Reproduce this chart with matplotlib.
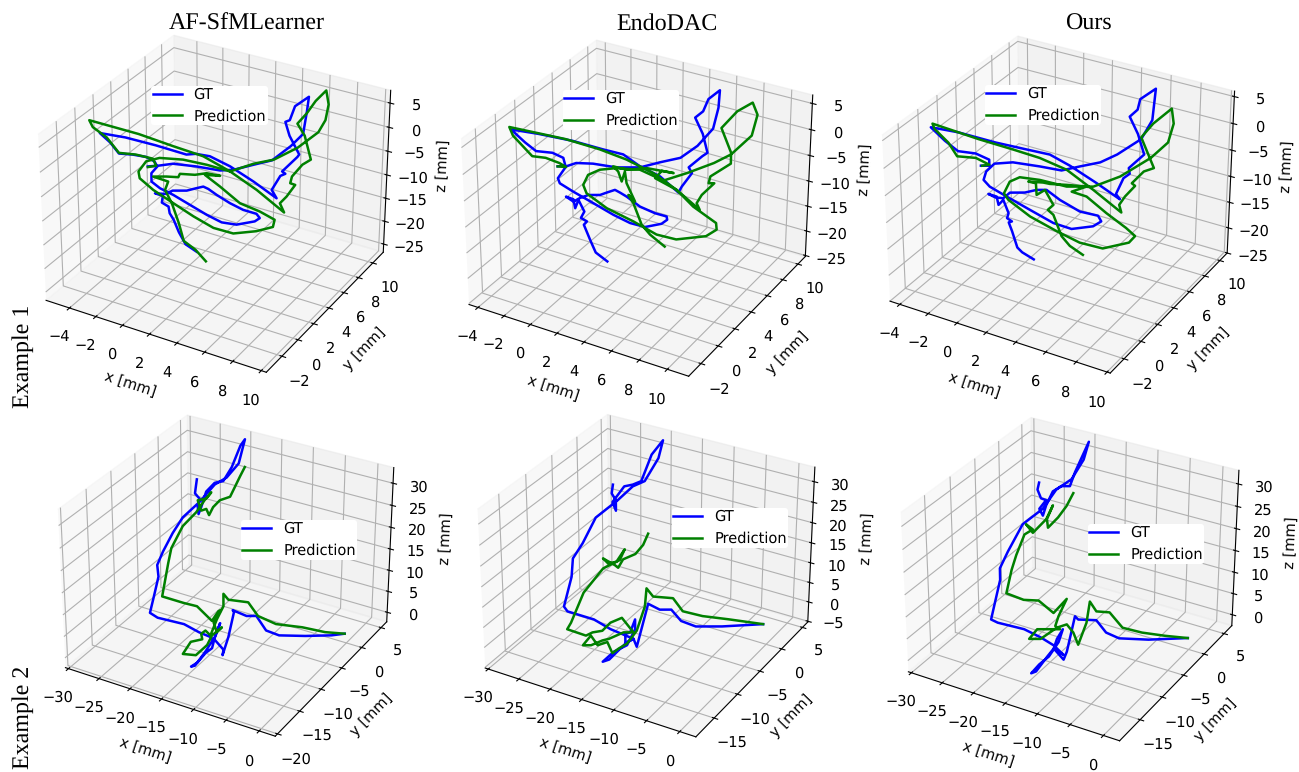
import matplotlib
matplotlib.use('Agg')
import matplotlib.pyplot as plt

W, H = 1299, 772

# Example 1, AF-SfMLearner
a1_gt_x = [0.98, 0.37, 0, -0.28, -0.5, -0.56, -0.93, -0.87, -1.3, -0.74, -0.32, 0.46, 0.98, 1.38, 1.66, 2.12, 2.86, 3.6, 4.34, 4.53, 4.25, 3.23, 2.4, 1.57, 0.64, -0.28, -1.02, -1.48, -1.48, -1.11, -0.28, 0.98, 2.31, 3.05, 4.16, 5.17, 6.19, 6.84, 7.02, 7.11, 6.37, 6.1, 5.86, 6.1, 6.65, 6.56, 5.73, 5.91, 5.64, 5.17, 5.45, 4.16, 2.86, 1.75, 0.98, 0.46, -1.21, -2.87, -4.26, -3.7, -3.24, -2.5, -1.76, -1.3, -1.17, -1.67]
a1_gt_y = [3.29, 2.95, 2.75, 2.59, 2.47, 2.44, 2.24, 2.27, 2.03, 2.34, 2.57, 3, 3.29, 3.51, 3.66, 3.92, 4.33, 4.73, 5.14, 5.24, 5.09, 4.53, 4.07, 3.61, 3.1, 2.59, 2.19, 1.93, 1.93, 2.14, 2.59, 3.29, 4.02, 4.43, 5.04, 5.6, 6.16, 6.52, 6.62, 6.67, 6.26, 6.11, 5.98, 6.11, 6.42, 6.36, 5.91, 6.01, 5.85, 5.6, 5.75, 5.04, 4.33, 3.71, 3.29, 3, 2.08, 1.17, 0.4, 0.71, 0.96, 1.37, 1.78, 2.03, 2.1, 1.83]
a1_gt_z = [-21.85, -20.24, -17.65, -14.99, -13.59, -12.19, -11.35, -9.95, -9.39, -9.53, -8.83, -8.83, -8.34, -7.99, -8.48, -9.74, -11.49, -12.89, -13.73, -14.64, -15.34, -16.04, -15.55, -13.94, -11.84, -9.74, -8.34, -6.94, -5.19, -3.65, -3.23, -3.79, -4.63, -4.49, -3.44, -2.53, 0.41, 2.86, 7.41, 10.35, 8.46, 5.66, 5.31, 2.51, -1.34, -1.83, -4.84, -5.33, -5.75, -8.69, -10.44, -6.94, -3.79, -1.69, -1.2, -1.34, 0.55, 2.16, 3.07, 1.11, -1.13, -1.34, -1.83, -2.74, -3.65, -3.79]
a1_pr_x = [1.51, 0.92, 0.27, 0, -0.37, -0.74, -0.56, -0.84, -1.39, -0.65, 0, 0.09, 0.92, 1.57, 2.31, 1.47, 2.31, 3.42, 4.53, 5.36, 5.27, 4.34, 3.05, 1.94, 0.83, -0.28, -1.39, -2.13, -2.19, -1.76, -1.02, 0.27, 1.57, 2.86, 4.16, 5.27, 6.56, 7.67, 8.04, 8.19, 8.04, 7.48, 7.02, 6.52, 6.93, 7.3, 6.84, 6.28, 6.19, 6.47, 6.0, 5.64, 5.88, 4.34, 2.86, 1.38, -0.28, -2.13, -4.81, -4.63, -3.89, -3.24, -2.32, -1.39, -1.21, -1.67]
a1_pr_y = [3.58, 3.26, 2.9, 2.75, 2.54, 2.34, 2.44, 2.29, 1.98, 2.39, 2.75, 2.8, 3.26, 3.61, 4.02, 3.56, 4.02, 4.63, 5.24, 5.7, 5.65, 5.14, 4.43, 3.82, 3.21, 2.59, 1.98, 1.57, 1.54, 1.78, 2.19, 2.9, 3.61, 4.33, 5.04, 5.65, 6.36, 6.98, 7.18, 7.26, 7.18, 6.87, 6.62, 6.34, 6.57, 6.77, 6.52, 6.21, 6.16, 6.31, 6.06, 5.85, 5.99, 5.14, 4.33, 3.51, 2.59, 1.57, 0.1, 0.2, 0.61, 0.96, 1.47, 1.98, 2.08, 1.83]
a1_pr_z = [-23.95, -21.43, -19.54, -15.69, -11.49, -8.69, -6.94, -6.59, -5.89, -5.89, -6.03, -5.33, -5.54, -5.19, -5.75, -5.54, -7.99, -11.49, -13.24, -14.99, -16.53, -17.44, -17.93, -16.74, -14.29, -11.49, -8.69, -6.24, -4.84, -2.74, -2.04, -2.39, -3.44, -4.84, -3.23, -2.39, 0.06, 3.21, 5.66, 8.81, 11.61, 9.51, 7.06, 4.96, 2.51, -2.39, -3.44, -5.89, -7.29, -7.64, -10.09, -11.49, -13.45, -8.69, -4.84, -1.69, 0.41, 2.86, 5.66, 4.26, 2.16, -0.99, -1.34, -2.18, -3.65, -3.93]

# Example 1, EndoDAC
e1_gt_x = [1.43, 0.78, 0.5, 0.13, 0.31, -0.05, 0.17, -0.15, -0.34, -0.43, -0.84, -0.43, -0.06, 0.41, 1.06, 1.43, 1.89, 2.17, 2.54, 3.29, 4.13, 4.78, 4.81, 4.5, 3.57, 2.73, 1.8, 0.69, -0.43, -1.17, -1.27, -0.8, -0.24, 0.69, 1.99, 3.29, 4.4, 5.52, 6.45, 7.29, 7.56, 7.62, 7.01, 6.73, 6.3, 6.73, 7.01, 6.73, 5.98, 6.17, 5.61, 5.43, 4.4, 3.29, 2.36, 1.24, -0.43, -2.29, -3.78, -3.03, -2.44, -1.54, -0.95, -0.84, -1.27]
e1_gt_y = [2.99, 2.65, 2.51, 2.32, 2.41, 2.27, 2.34, 2.18, 2.08, 2.03, 1.82, 2.03, 2.22, 2.46, 2.8, 2.99, 3.23, 3.37, 3.56, 3.94, 4.37, 4.71, 4.73, 4.56, 4.09, 3.66, 3.18, 2.61, 2.03, 1.65, 1.6, 1.84, 2.13, 2.61, 3.27, 3.94, 4.52, 5.09, 5.57, 6, 6.14, 6.17, 5.85, 5.71, 5.49, 5.71, 5.85, 5.71, 5.33, 5.42, 5.14, 5.04, 4.52, 3.94, 3.47, 2.89, 2.03, 1.08, 0.31, 0.7, 1, 1.46, 1.77, 1.82, 1.6]
e1_gt_z = [-21.75, -19.94, -17.67, -14.42, -13.77, -13.13, -11.83, -9.56, -11.18, -9.43, -8.91, -9.88, -9.17, -8.59, -8.59, -8.13, -7.61, -8.13, -8.91, -10.86, -12.15, -12.8, -13.45, -14.23, -14.88, -14.1, -12.48, -10.21, -7.94, -6.32, -5.34, -3.07, -2.43, -2.56, -3.27, -3.27, -2.3, -1.45, 0.82, 4.06, 7.95, 11.19, 9.57, 7.3, 6.13, 3.09, -0.48, -1.13, -3.27, -4.37, -6.97, -8.13, -5.02, -3.07, -0.8, 0.17, 1.79, 3.09, 3.93, 1.47, -0.16, -0.48, -1.45, -2.94, -3.07]
e1_pr_x = [4.68, 3.85, 3.38, 2.92, 2.64, 3.01, 2.54, 2.45, 2.27, 2.08, 1.8, 2.54, 3.66, 5.15, 4.5, 4.13, 5.33, 6.26, 7.56, 7.6, 7.01, 5.33, 4.22, 2.92, 1.43, 0.31, 0.13, 0.41, 1.06, 1.99, 3.29, 4.59, 5.89, 7.38, 8.31, 9.42, 9.7, 9.42, 8.59, 7.75, 8.31, 8.31, 7.19, 7.1, 7.42, 6.73, 6.45, 6.63, 5.33, 4.03, 2.54, 1.06, -0.8, -3.87, -3.68, -2.66, -1.92, -1.17, -0.8, -1.27]
e1_pr_y = [4.66, 4.23, 3.99, 3.75, 3.61, 3.8, 3.56, 3.51, 3.42, 3.32, 3.18, 3.56, 4.13, 4.9, 4.56, 4.37, 4.99, 5.47, 6.14, 6.16, 5.85, 4.99, 4.42, 3.75, 2.99, 2.41, 2.32, 2.46, 2.8, 3.27, 3.94, 4.61, 5.28, 6.04, 6.52, 7.09, 7.24, 7.09, 6.66, 6.23, 6.52, 6.52, 5.95, 5.9, 6.06, 5.71, 5.57, 5.66, 4.99, 4.32, 3.56, 2.8, 1.84, 0.27, 0.36, 0.89, 1.27, 1.65, 1.84, 1.6]
e1_pr_z = [-18.77, -16.37, -14.42, -10.21, -8.59, -9.88, -6.32, -4.05, -5.99, -4.05, -3.07, -3.72, -3.4, -4.37, -3.92, -5.34, -7.61, -10.86, -14.1, -15.4, -16.69, -17.34, -16.37, -13.77, -11.18, -8.26, -6.64, -4.7, -3.72, -3.4, -3.72, -5.8, -4.37, -2.43, -0.8, 2.76, 6.65, 8.92, 7.3, 4.19, -0.48, -2.56, -5.02, -6.32, -6.32, -8.59, -10.21, -11.5, -7.61, -4.37, -1.78, 0.17, 2.11, 4.38, 2.76, -1.13, -1.45, -2.43, -3.2, -3.07]

# Example 1, Ours
o1_gt_x = [1.16, 0.56, 0.31, 0.05, -0.12, 0.05, -0.2, -0.12, -0.38, -0.63, -0.72, -1.14, -0.8, -0.38, -0.03, 0.73, 1.33, 1.84, 2.53, 3.55, 4.49, 4.66, 4.24, 3.13, 2.19, 0.99, -0.2, -1.06, -1.37, -1.23, -0.8, 0.14, 1.5, 2.61, 3.55, 4.58, 5.43, 6.63, 7.17, 7.31, 6.54, 6.42, 6.03, 6.46, 6.8, 6.03, 6.08, 5.77, 5.4, 5.6, 4.41, 3.04, 2.02, 0.82, -0.72, -2.6, -3.96, -3.28, -2.63, -1.74, -1.06, -1.06, -1.49]
o1_gt_y = [3.1, 2.76, 2.62, 2.47, 2.38, 2.47, 2.33, 2.38, 2.23, 2.09, 2.04, 1.8, 1.99, 2.23, 2.42, 2.86, 3.2, 3.49, 3.87, 4.45, 4.99, 5.08, 4.84, 4.21, 3.68, 3, 2.33, 1.84, 1.67, 1.75, 1.99, 2.52, 3.29, 3.92, 4.45, 5.03, 5.52, 6.2, 6.5, 6.58, 6.15, 6.08, 5.86, 6.1, 6.29, 5.86, 5.89, 5.71, 5.5, 5.61, 4.94, 4.16, 3.58, 2.91, 2.04, 0.97, 0.18, 0.59, 0.95, 1.46, 1.84, 1.84, 1.6]
o1_gt_z = [-22.06, -20.67, -19.73, -16.57, -14.87, -14.68, -14.05, -13.1, -10.57, -11.52, -9.94, -9.44, -10.07, -10.26, -9.18, -9.18, -8.68, -8.68, -10.57, -12.78, -13.6, -14.68, -15.62, -16.13, -14.99, -12.47, -9.94, -8.05, -6.79, -5.21, -3.75, -3.5, -4.26, -5.02, -4.26, -3.5, -2.05, 0.79, 4.26, 9.94, 8.05, 6.16, 4.89, 1.74, -2.05, -4.58, -5.65, -6.47, -9.44, -10.45, -7.42, -4.13, -2.05, -1.1, 0.16, 2.05, 3, 0.47, -1.42, -1.86, -3, -4.13, -4.13]
o1_pr_x = [3.72, 3.04, 2.61, 2.19, 1.9, 2.19, 1.76, 1.33, 1.3, 0.91, 1.67, 2.02, 2.87, 3.89, 3.13, 3.89, 4.92, 5.94, 6.42, 6.11, 4.75, 3.55, 2.36, 0.99, -0.12, -0.34, -0.03, 0.48, 1.5, 2.87, 4.24, 5.6, 7.14, 7.99, 8.25, 8.13, 7.22, 6.63, 6.97, 7.31, 6.8, 6.2, 6.37, 5.86, 5.57, 5.69, 4.24, 2.87, 1.5, 0.14, -1.57, -3.88, -3.79, -3.11, -2.68, -1.74, -1.06, -1.43]
o1_pr_y = [4.55, 4.16, 3.92, 3.68, 3.52, 3.68, 3.44, 3.2, 3.18, 2.96, 3.39, 3.58, 4.07, 4.65, 4.21, 4.65, 5.23, 5.81, 6.08, 5.9, 5.13, 4.45, 3.78, 3, 2.38, 2.25, 2.42, 2.71, 3.29, 4.07, 4.84, 5.61, 6.49, 6.97, 7.11, 7.05, 6.53, 6.2, 6.39, 6.58, 6.29, 5.95, 6.05, 5.76, 5.6, 5.66, 4.84, 4.07, 3.29, 2.52, 1.55, 0.25, 0.3, 0.68, 0.92, 1.46, 1.84, 1.63]
o1_pr_z = [-21.18, -19.41, -17.52, -13.41, -12.47, -11.52, -8.68, -9.63, -7.42, -7.1, -7.29, -7.54, -7.73, -8.05, -9, -9.94, -13.1, -15.94, -17.52, -18.78, -19.92, -18.78, -16.57, -13.73, -10.57, -9.31, -7.1, -6.28, -6.79, -8.05, -8.05, -6.15, -2.68, 0.16, 3.63, 6.35, 3.63, 1.11, -1.74, -4.58, -5.21, -7.42, -7.92, -9.94, -11.52, -12.97, -8.68, -4.89, -2.68, -1.1, 0.79, 3.63, 2.68, 0.16, -2.37, -2.68, -3.94, -4.13]

# Example 2, AF-SfMLearner
a2_gt_x = [-17.77, -17.89, -18, -17.49, -17.69, -17.61, -17.29, -16.7, -15.71, -14.72, -13.73, -12.75, -12.23, -12.94, -14.33, -15.71, -17.49, -19.47, -20.65, -21.84, -22.55, -22.43, -23.03, -23.54, -22.63, -19.47, -17.69, -16.3, -15.91, -15.51, -15.12, -15.71, -16.11, -16.9, -17.89, -18.68, -18.2, -16.9, -15.91, -14.72, -14.84, -14.13, -13.46, -13.62, -11.95, -10.77, -9.58, -8, -4.84, -1.67, -0.09]
a2_gt_y = [-8.77, -8.82, -8.88, -8.63, -8.73, -8.69, -8.54, -8.26, -7.79, -7.32, -6.85, -6.38, -6.14, -6.47, -7.13, -7.79, -8.63, -9.57, -10.14, -10.7, -11.04, -10.98, -11.26, -11.51, -11.08, -9.57, -8.73, -8.07, -7.88, -7.69, -7.51, -7.79, -7.98, -8.35, -8.82, -9.2, -8.97, -8.35, -7.88, -7.32, -7.38, -7.04, -6.72, -6.79, -6, -5.44, -4.88, -4.13, -2.62, -1.12, -0.37]
a2_gt_z = [35.42, 33.89, 32.36, 31.21, 29.3, 27.77, 29.3, 32.74, 34.66, 35.04, 38.1, 42.7, 44.07, 38.87, 35.81, 34.28, 30.45, 27, 23.56, 19.35, 16.29, 13.61, 9.02, 5.19, 4.04, 2.51, 0.6, -0.55, -1.32, 0.6, 2.74, -0.17, -3.23, -4.38, -6.67, -7.67, -7.44, -3.99, -0.93, -3.61, -4.91, -0.55, 5.34, 5.8, 4.43, 4.43, 1, -0.17, -0.32, -0.17, 0.22]
a2_pr_x = [-12.23, -12.75, -13.93, -15.12, -15.91, -16.38, -16.7, -17.29, -17.69, -16.7, -16.11, -16.9, -17.89, -19.47, -20.85, -21.25, -22.04, -19.47, -17.89, -16.11, -15.32, -15.04, -15.91, -15.51, -14.92, -16.11, -16.7, -18.08, -18.87, -19.66, -18.68, -17.29, -17.41, -16.9, -16.3, -15.51, -14.72, -14.72, -14.13, -11.76, -10.57, -8.4, -5.23, -2.46, -0.09]
a2_pr_y = [-6.14, -6.38, -6.94, -7.51, -7.88, -8.11, -8.26, -8.54, -8.73, -8.26, -7.98, -8.35, -8.82, -9.57, -10.23, -10.42, -10.79, -9.57, -8.82, -7.98, -7.6, -7.47, -7.88, -7.69, -7.41, -7.98, -8.26, -8.92, -9.29, -9.67, -9.2, -8.54, -8.6, -8.35, -8.07, -7.69, -7.32, -7.32, -7.04, -5.91, -5.35, -4.31, -2.81, -1.5, -0.37]
a2_pr_z = [38.1, 36.19, 31.6, 30.83, 29.3, 27.54, 28.92, 28.54, 30.83, 31.21, 32.59, 30.83, 28.15, 25.09, 20.12, 16.67, 9.02, 7.49, 6.72, 3.28, 5.57, 5.8, 2.89, 0.6, 1.75, -0.17, -2.46, -4.91, -4.76, -4.61, -1.7, -1.09, 0.22, 0.98, -0.17, 3.66, 6.72, 9.63, 8.25, 7.64, 4.43, 2.51, 1.75, 0.6, 0.22]

# Example 2, EndoDAC
e2_gt_x = [-17.82, -17.97, -17.5, -17.5, -17.89, -16.52, -15.54, -14.56, -13.38, -12.09, -12.6, -14.17, -15.54, -17.3, -19.85, -21.42, -22.6, -22.8, -23.78, -23.38, -20.25, -18.29, -15.54, -16.52, -16.52, -15.93, -15.34, -15.34, -16.32, -17.89, -19.27, -18.48, -16.32, -15.54, -15.15, -13.78, -12.4, -11.03, -9.85, -8.09, -4.95, -0.05]
e2_gt_y = [-8.67, -8.74, -8.53, -8.53, -8.7, -8.09, -7.66, -7.23, -6.7, -6.13, -6.36, -7.05, -7.66, -8.44, -9.57, -10.26, -10.78, -10.87, -11.31, -11.13, -9.74, -8.87, -7.66, -8.09, -8.09, -7.83, -7.57, -7.57, -8.01, -8.7, -9.31, -8.96, -8.01, -7.66, -7.49, -6.88, -6.27, -5.66, -5.14, -4.36, -2.97, -0.8]
e2_gt_z = [34.95, 32.89, 31.25, 28.78, 30.84, 34.54, 34.95, 35.77, 41.93, 45.22, 41.11, 35.77, 34.54, 31.25, 27.14, 20.97, 17.27, 12.75, 5.35, 4.12, 2.07, -0.4, -2.87, -4.1, -1.63, -1.22, 2.07, -0.4, -4.51, -6.15, -8.78, -8.21, -3.69, -2.87, -4.92, 6.01, 4.53, 4.53, 1.66, 0.26, 0.26, 0.83]
e2_pr_x = [-13.78, -14.36, -15.27, -16.72, -17.3, -17.7, -19.07, -18.48, -17.5, -16.52, -17.11, -19.07, -21.42, -22.99, -23.46, -21.23, -20.44, -19.27, -18.29, -16.91, -15.54, -16.72, -18.48, -19.27, -20.64, -21.62, -20.64, -19.85, -18.68, -18.09, -17.3, -16.32, -15.15, -14.17, -13.97, -13.19, -10.83, -9.66, -7.3, -4.17, -0.05]
e2_pr_y = [-6.88, -7.14, -7.54, -8.18, -8.44, -8.61, -9.22, -8.96, -8.53, -8.09, -8.35, -9.22, -10.26, -10.96, -11.17, -10.18, -9.83, -9.31, -8.87, -8.27, -7.66, -8.18, -8.96, -9.31, -9.92, -10.35, -9.92, -9.57, -9.05, -8.79, -8.44, -8.01, -7.49, -7.05, -6.97, -6.62, -5.58, -5.06, -4.01, -2.63, -0.8]
e2_pr_z = [23.27, 20.56, 18.34, 17.03, 14.97, 15.63, 17.27, 16.04, 16.45, 19.49, 16.86, 14.81, 8.81, 1.24, -0.4, -2.04, -1.22, -0.81, 1.24, 2.48, -1.22, -1.22, -2.87, -3.28, -4.51, -4.51, -2.04, -4.51, -3.69, -6.56, -5.33, -4.1, -0.81, 5.35, 9.88, 7.82, 7.41, 4.12, 2.89, 2.07, 0.83]

# Example 2, Ours
o2_gt_x = [-17.54, -17.73, -17.34, -16.75, -17.54, -17.14, -16.75, -15.97, -14.99, -14.01, -13.42, -11.86, -12.44, -13.81, -15.58, -17.14, -19.49, -21.26, -22.24, -22.24, -23.02, -23.41, -22.63, -19.49, -17.54, -15.97, -14.79, -15.97, -15.58, -14.87, -15.38, -16.56, -17.73, -18.71, -18.12, -16.75, -15.97, -14.79, -14.4, -13.42, -13.03, -10.88, -9.7, -8.14, -4.61, 0.09]
o2_gt_y = [-8.62, -8.71, -8.52, -8.25, -8.62, -8.43, -8.25, -7.89, -7.44, -6.98, -6.71, -5.98, -6.26, -6.89, -7.71, -8.43, -9.52, -10.34, -10.79, -10.79, -11.16, -11.34, -10.97, -9.52, -8.62, -7.89, -7.34, -7.89, -7.71, -7.38, -7.62, -8.16, -8.71, -9.16, -8.89, -8.25, -7.89, -7.34, -7.16, -6.71, -6.53, -5.53, -4.99, -4.26, -2.63, -0.45]
o2_gt_z = [35.43, 33.92, 32.03, 31.65, 29.77, 28.26, 30.52, 33.54, 34.67, 34.67, 37.69, 44.1, 40.33, 36.18, 33.92, 29.77, 26.37, 20.33, 16.56, 13.92, 7.88, 4.86, 4.11, 2.6, 0.71, -1.18, -3.44, -1.93, 0.33, 2.6, -0.42, -3.82, -5.7, -7.82, -7.37, -3.82, -1.93, -4.57, -2.69, 5.62, 4.86, 4.71, 1.84, 0.48, 0.18, 0.56]
o2_pr_x = [-13.62, -14.4, -15.38, -16.56, -16.67, -15.97, -16.75, -18.32, -19.1, -18.32, -19.3, -20.28, -20.87, -21.53, -19.49, -17.73, -15.97, -14.4, -15.38, -15.77, -15.19, -16.36, -17.93, -18.91, -17.54, -15.58, -14.4, -13.62, -13.03, -12.05, -11.66, -10.88, -9.31, -7.74, -5.39, -2.65, 0.09]
o2_pr_y = [-6.8, -7.16, -7.62, -8.16, -8.22, -7.89, -8.25, -8.98, -9.34, -8.98, -9.43, -9.89, -10.16, -10.47, -9.52, -8.71, -7.89, -7.16, -7.62, -7.8, -7.53, -8.07, -8.8, -9.25, -8.62, -7.71, -7.16, -6.8, -6.53, -6.07, -5.89, -5.53, -4.8, -4.08, -3, -1.72, -0.45]
o2_pr_z = [33.16, 30.37, 27.88, 25.61, 27.5, 30.52, 27.5, 24.48, 26.37, 25.24, 24.11, 19.58, 16.18, 10.9, 9.39, 9.24, 6.37, 9.62, 5.62, 3.35, 2.6, 2.6, 2.6, 0.33, 0.33, 2.97, 3.73, 1.84, -1.03, 4.11, 9.01, 6.75, 6.52, 2.97, 1.84, 1.09, 0.56]

gt = [(a1_gt_x, a1_gt_y, a1_gt_z), (e1_gt_x, e1_gt_y, e1_gt_z), (o1_gt_x, o1_gt_y, o1_gt_z),
      (a2_gt_x, a2_gt_y, a2_gt_z), (e2_gt_x, e2_gt_y, e2_gt_z), (o2_gt_x, o2_gt_y, o2_gt_z)]
pred = [(a1_pr_x, a1_pr_y, a1_pr_z), (e1_pr_x, e1_pr_y, e1_pr_z), (o1_pr_x, o1_pr_y, o1_pr_z),
        (a2_pr_x, a2_pr_y, a2_pr_z), (e2_pr_x, e2_pr_y, e2_pr_z), (o2_pr_x, o2_pr_y, o2_pr_z)]

methods = ['AF-SfMLearner', 'EndoDAC', 'Ours']
rows = ['Example 1', 'Example 2']

# axes box in pixels
S = [392, 391, 392, 373.5, 375, 376]
CX = [212.5, 635, 1056.4, 224, 644.4, 1068]
CY = [201, 205.4, 201.8, 573, 573, 576.5]
XLIM = [(-5.8, 10.35), (-4.7, 11.5), (-4.7, 10.2), (-30.5, 2.4), (-30.5, 2.4), (-30.5, 2.4)]
YLIM = [(-3.9, 11.5), (-3.4, 11), (-3.6, 11), (-20.5, 6.5), (-18.8, 6.3), (-19.5, 7)]
ZLIM = [(-26.8, 7.6), (-25.2, 6.6), (-25, 6), (-2.3, 33.5), (-5.2, 33.5), (-2.6, 33)]
LEG = [(209.5, 105.5), (621, 110), (1043, 105), (299, 540), (730, 528), (1146, 544)]

plt.rcParams['font.size'] = 10.5
plt.rcParams['lines.linewidth'] = 1.8
plt.rcParams['text.hinting'] = 'none'

fig = plt.figure(figsize=(W / 100, H / 100), dpi=100)

for i in range(6):
    ax = fig.add_axes([(CX[i] - S[i] / 2) / W, 1 - (CY[i] + S[i] / 2) / H, S[i] / W, S[i] / H], projection='3d')
    ax.patch.set_alpha(0)
    ax.plot(*gt[i], color='blue', label='GT')
    ax.plot(*pred[i], color='green', label='Prediction')
    ax.set_xlim(*XLIM[i])
    ax.set_ylim(*YLIM[i])
    ax.set_zlim(*ZLIM[i])
    ax.set_xlabel('x [mm]')
    ax.set_ylabel('y [mm]')
    ax.set_zlabel('z [mm]')
    ax.legend(loc='center', bbox_to_anchor=(LEG[i][0] / W, 1 - LEG[i][1] / H), bbox_transform=fig.transFigure,
              facecolor='white', edgecolor='none', framealpha=1, borderaxespad=0, borderpad=0.1)

serif = 'Liberation Serif'
for x, name in zip([247, 667, 1088], methods):
    fig.text(x / W, 1 - 24 / H, name, family=serif, fontsize=17.3, ha='center', va='center')
for y, name in zip([356, 717], rows):
    fig.text(23 / W, 1 - y / H, name, family=serif, fontsize=17.3, rotation=90, ha='center', va='center')

fig.savefig('out.png', dpi=100)
